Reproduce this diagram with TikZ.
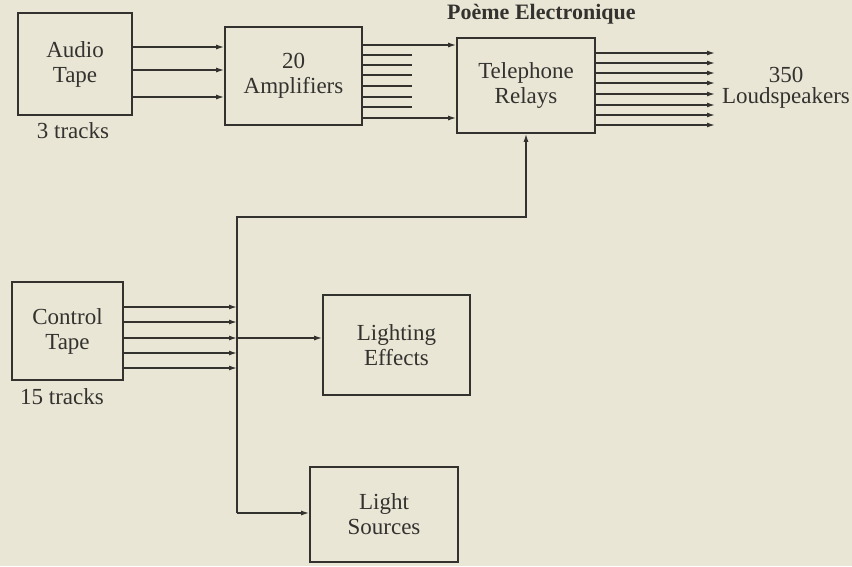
\documentclass[tikz,border=0pt]{standalone}
\usepackage{fontspec}
\setmainfont{Liberation Serif}
\usetikzlibrary{arrows.meta}
\definecolor{paper}{HTML}{E9E6D6}
\definecolor{ink}{HTML}{33322E}
\begin{document}
\begin{tikzpicture}[x=1pt,y=-1pt,
  box/.style={draw=ink,line width=1.6pt,inner sep=0pt,text=ink,align=center,
    font=\fontsize{23}{25}\selectfont},
  lbl/.style={text=ink,inner sep=0pt,align=center,font=\fontsize{23}{23}\selectfont},
  wire/.style={draw=ink,line width=1.4pt},
  arr/.style={wire,-{Latex[length=8pt,width=5pt]}}]
\fill[paper] (0,0) rectangle (852,566);
\useasboundingbox (0,0) rectangle (852,566);
\node[text=ink,anchor=base west,inner sep=0pt,font=\fontsize{22}{22}\selectfont\bfseries] (title) at (447,19) {Poème Electronique};
% boxes
\node[box,minimum width=114pt,minimum height=102pt] (audio) at (75,64) {Audio\\Tape};
\node[box,minimum width=137pt,minimum height=98pt] (amp) at (293.5,76) {20\\Amplifiers};
\node[box,minimum width=138pt,minimum height=95pt] (relay) at (526,85.5) {Telephone\\Relays};
\node[box,minimum width=111pt,minimum height=98pt] (ctrl) at (67.5,331) {Control\\Tape};
\node[box,minimum width=147pt,minimum height=100pt] (light) at (396.5,345) {Lighting\\Effects};
\node[box,minimum width=148pt,minimum height=95pt] (lsrc) at (384,514.5) {Light\\Sources};
% labels
\node[lbl] (l3) at (73,131) {3 tracks};
\node[lbl] (l15) at (62,397) {15 tracks};
\node[lbl,font=\fontsize{23}{21}\selectfont] (spk) at (786,88) {350\\Loudspeakers};
% audio -> amplifiers
\foreach \y in {47,70,97} \draw[arr] (audio.east |- 0,\y) -- (amp.west |- 0,\y);
% amplifiers -> relays
\foreach \y in {45,118} \draw[arr] (amp.east |- 0,\y) -- (relay.west |- 0,\y);
\coordinate (stub) at (412,0);
\foreach \y in {55,65,75,86,97,107} \draw[wire] (amp.east |- 0,\y) -- (stub |- 0,\y);
% relays -> loudspeakers
\coordinate (spkend) at (715,0);
\foreach \y in {53,63,73,83,94,105,115,125} \draw[arr] (relay.east |- 0,\y) -- (spkend |- 0,\y);
% control bus
\coordinate (busT) at (237,217);
\coordinate (busB) at (237,513);
\foreach \y in {307,322,338,353,368} \draw[arr] (ctrl.east |- 0,\y) -- (busT |- 0,\y);
\draw[arr] (busB) -- (busT) -| (relay.south);
\draw[arr] (busT |- 0,338) -- (light.west |- 0,338);
\draw[arr] (busB) -- (busB -| lsrc.west);
\end{tikzpicture}
\end{document}
